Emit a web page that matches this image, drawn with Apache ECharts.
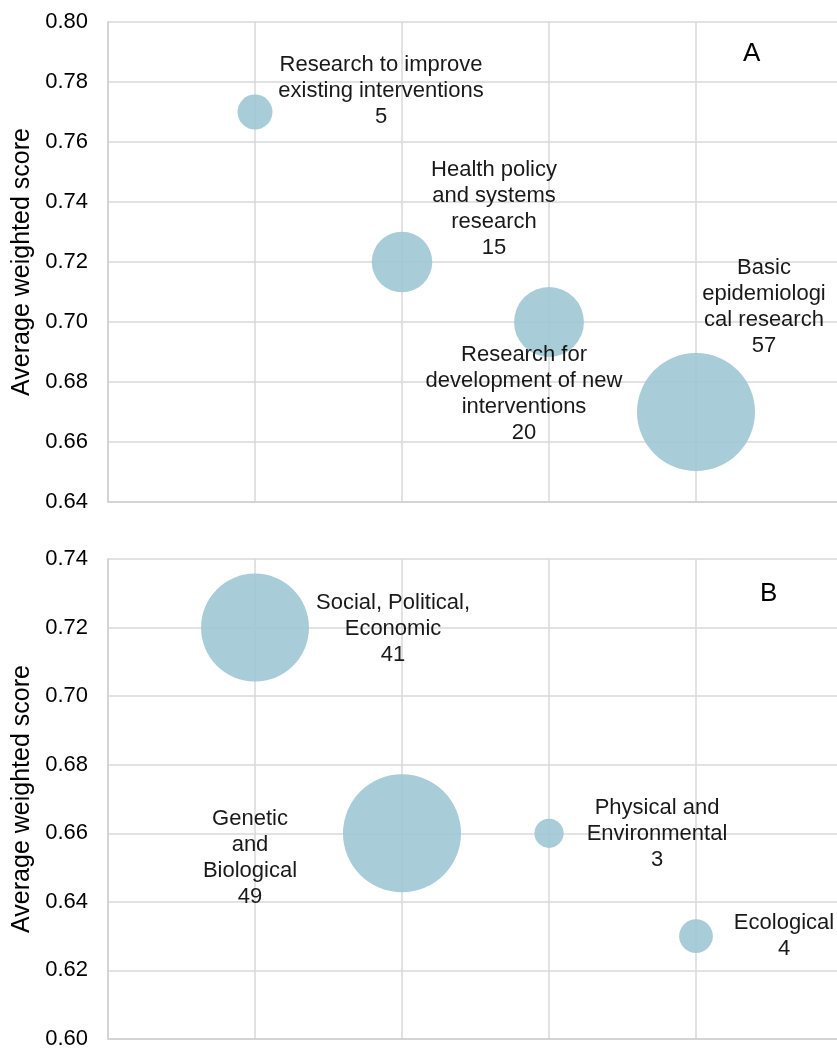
<!DOCTYPE html>
<html>
<head>
<meta charset="utf-8">
<script src="https://cdn.jsdelivr.net/npm/echarts@6/dist/echarts.min.js"></script>
<style>
  html, body { margin: 0; padding: 0; background: #fff; overflow: hidden; }
  #chart { width: 850px; height: 1050px; }
</style>
</head>
<body>
<div id="chart"></div>
<script>
// Panel A: research type
const namesA = ['Research to improve\nexisting interventions', 'Health policy\nand systems\nresearch', 'Research for\ndevelopment of new\ninterventions', 'Basic\nepidemiologi\ncal research'];
const slotA = [1, 2, 3, 4];
const scoreA = [0.77, 0.72, 0.70, 0.67];
const countA = [5, 15, 20, 57];

// Panel B: determinant type
const namesB = ['Social, Political,\nEconomic', 'Genetic\nand\nBiological', 'Physical and\nEnvironmental', 'Ecological'];
const slotB = [1, 2, 3, 4];
const scoreB = [0.72, 0.66, 0.66, 0.63];
const countB = [41, 49, 3, 4];

// Value-axis ranges
const yRangeA = { min: 0.64, max: 0.80, step: 0.02 };
const yRangeB = { min: 0.60, max: 0.74, step: 0.02 };
const yTitle = 'Average weighted score';

// Label placement relative to each bubble centre (px)
const labelShiftA = [[126, -21], [92, -53], [-25, 72], [68, -105]];
const labelShiftB = [[138, 1], [-152, 25], [108, 1], [88, 0]];

const FONT = '"Liberation Sans", Arial, Helvetica, sans-serif';
const BUBBLE = '#9ec6d4';
const MAX_DIAM = 118;

function bubbleData(names, xs, ys, counts, shifts) {
  const maxC = Math.max.apply(null, counts);
  return names.map((n, i) => ({
    name: n,
    value: [xs[i], ys[i], counts[i]],
    symbolSize: MAX_DIAM * Math.sqrt(counts[i] / maxC),
    label: { offset: shifts[i] }
  }));
}

function yAxisFor(gridIndex, r) {
  return {
    type: 'value', gridIndex, min: r.min, max: r.max, interval: r.step,
    name: yTitle, nameLocation: 'middle', nameRotate: 90, nameGap: 67,
    nameTextStyle: { fontFamily: FONT, fontSize: 25, color: '#000' },
    axisLine: { show: true, lineStyle: { color: '#cfcfcf', width: 1.5 } },
    axisTick: { show: false },
    axisLabel: { fontFamily: FONT, fontSize: 22, color: '#000', margin: 20,
      formatter: v => v.toFixed(2) },
    splitLine: { show: true, lineStyle: { color: '#d9d9d9', width: 1.5 } }
  };
}

function xAxisFor(gridIndex) {
  return {
    type: 'value', gridIndex, min: 0, max: 5, interval: 1,
    axisLine: { show: true, onZero: false, lineStyle: { color: '#cfcfcf', width: 1.5 } },
    axisTick: { show: false },
    axisLabel: { show: false },
    splitLine: { show: true, lineStyle: { color: '#d9d9d9', width: 1.5 } }
  };
}

function bubbleSeries(idx, data) {
  return {
    type: 'scatter', xAxisIndex: idx, yAxisIndex: idx,
    data,
    itemStyle: { color: BUBBLE, opacity: 0.9 },
    label: {
      show: true, position: 'inside', align: 'center', verticalAlign: 'middle',
      fontFamily: FONT, fontSize: 22, lineHeight: 26, color: '#000',
      formatter: p => p.name + '\n' + p.value[2]
    },
    emphasis: { disabled: true },
    clip: false
  };
}

const chart = echarts.init(document.getElementById('chart'), null, { renderer: 'canvas' });
chart.setOption({
  animation: false,
  backgroundColor: '#fff',
  grid: [
    { left: 108, top: 22, width: 735, height: 480 },
    { left: 108, top: 559, width: 735, height: 480 }
  ],
  xAxis: [xAxisFor(0), xAxisFor(1)],
  yAxis: [yAxisFor(0, yRangeA), yAxisFor(1, yRangeB)],
  series: [
    bubbleSeries(0, bubbleData(namesA, slotA, scoreA, countA, labelShiftA)),
    bubbleSeries(1, bubbleData(namesB, slotB, scoreB, countB, labelShiftB))
  ],
  graphic: [
    { type: 'text', left: 743, top: 41, style: { text: 'A', font: '26px ' + FONT, fill: '#000' } },
    { type: 'text', left: 760, top: 581, style: { text: 'B', font: '26px ' + FONT, fill: '#000' } }
  ]
});
</script>
</body>
</html>
